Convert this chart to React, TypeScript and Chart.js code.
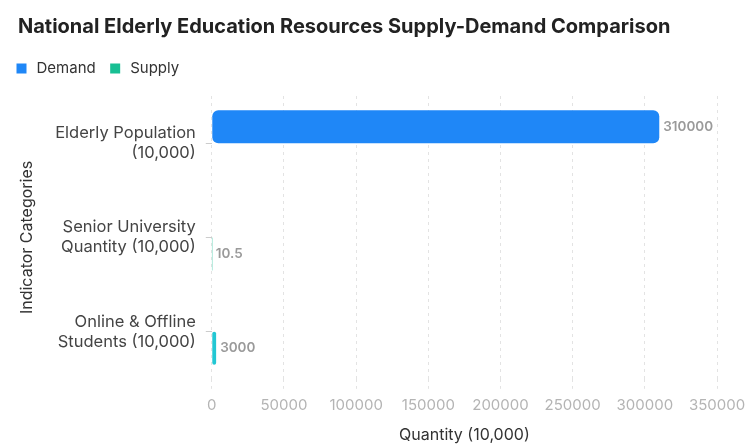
import React, { useEffect, useRef } from "react";
import { Chart, registerables } from "chart.js";

Chart.register(...registerables);

const categories: string[][] = [
  ["Elderly Population", "(10,000)"],
  ["Senior University", "Quantity (10,000)"],
  ["Online & Offline", "Students (10,000)"],
];
const demandValues: (number | null)[] = [310000, null, null];
const supplyValues: (number | null)[] = [null, 10.5, 3000];
const xTicks: number[] = [0, 50000, 100000, 150000, 200000, 250000, 300000, 350000];

const BLUE = "#1f87f7";
const GREEN = "#17bf93";
const CYAN = "#22c7d3";
const FONT = "Inter, 'DejaVu Sans', sans-serif";

const valueLabels = {
  id: "valueLabels",
  afterDatasetsDraw(chart: any) {
    const ctx = chart.ctx;
    ctx.save();
    ctx.font = "600 13.5px " + FONT;
    ctx.fillStyle = "#9a9a9a";
    ctx.textAlign = "left";
    ctx.textBaseline = "middle";
    chart.data.datasets.forEach((ds: any, di: number) => {
      const meta = chart.getDatasetMeta(di);
      meta.data.forEach((el: any, i: number) => {
        const v = ds.data[i];
        if (v === null || v === undefined) return;
        ctx.fillText(String(v), el.x + 4, el.y);
      });
    });
    ctx.restore();
  },
};

const legendTweak = {
  id: "legendTweak",
  beforeInit(chart: any) {
    const orig = chart.legend.fit;
    chart.legend.fit = function () {
      orig.bind(chart.legend)();
      this.height += 10;
    };
  },
  afterLayout(chart: any) {
    chart.legend.left -= 16;
  },
};

export default function App() {
  const ref = useRef<HTMLCanvasElement | null>(null);
  useEffect(() => {
    if (!ref.current) return;
    const chart = new Chart(ref.current, {
      type: "bar",
      data: {
        labels: categories,
        datasets: [
          {
            label: "Demand",
            data: demandValues,
            backgroundColor: BLUE,
            borderRadius: 6,
            borderSkipped: false,
            categoryPercentage: 0.7,
            barPercentage: 1,
          },
          {
            label: "Supply",
            data: supplyValues,
            backgroundColor: (c: any) => (c.dataIndex === 2 ? CYAN : GREEN),
            borderRadius: 6,
            borderSkipped: false,
            categoryPercentage: 0.7,
            barPercentage: 1,
          },
        ],
      },
      options: {
        indexAxis: "y",
        animation: false,
        responsive: true,
        maintainAspectRatio: false,
        layout: { padding: { left: 18, right: 0, top: 0, bottom: 0 } },
        plugins: {
          title: {
            display: true,
            text: "National Elderly Education Resources Supply-Demand Comparison",
            align: "start",
            color: "#222",
            font: { family: FONT, size: 20, weight: "bold" },
            padding: { top: 15, bottom: 10 },
          },
          legend: {
            display: true,
            align: "start",
            labels: {
              usePointStyle: true,
              pointStyle: "rect",
              boxWidth: 15,
              boxHeight: 10,
              color: "#333",
              font: { family: FONT, size: 15 },
              padding: 12,
            },
          },
          tooltip: { enabled: false },
        },
        scales: {
          x: {
            min: 0,
            max: 350000,
            afterBuildTicks: (scale: any) => {
              scale.ticks = xTicks.map((v) => ({ value: v }));
            },
            afterFit: (scale: any) => {
              scale.paddingRight = 31;
            },
            border: { display: false, dash: [3, 4] },
            grid: {
              color: "#e3e3e3",
              tickLength: 10,
              drawTicks: true,
              tickBorderDash: [3, 4],
            },
            ticks: {
              color: "#b4b4b4",
              font: { family: FONT, size: 15 },
              padding: 8,
              callback: (v: any) => String(v),
            },
            title: {
              display: true,
              text: "Quantity (10,000)",
              color: "#333",
              font: { family: FONT, size: 16 },
              padding: { top: 3, bottom: 0 },
            },
          },
          y: {
            border: { display: false },
            grid: { drawOnChartArea: false, offset: false, tickLength: 6, color: "#cccccc" },
            ticks: {
              color: "#444",
              font: { family: FONT, size: 16.5 },
              padding: 10,
            },
            title: {
              display: true,
              text: "Indicator Categories",
              color: "#333",
              font: { family: FONT, size: 16 },
              padding: { top: 0, bottom: 8 },
            },
          },
        },
      },
      plugins: [valueLabels, legendTweak],
    } as any);
    return () => chart.destroy();
  }, []);
  return (
    <div style={{ position: "fixed", left: 0, top: 0, width: 748, height: 445, background: "#fff" }}>
      <canvas ref={ref} />
    </div>
  );
}
